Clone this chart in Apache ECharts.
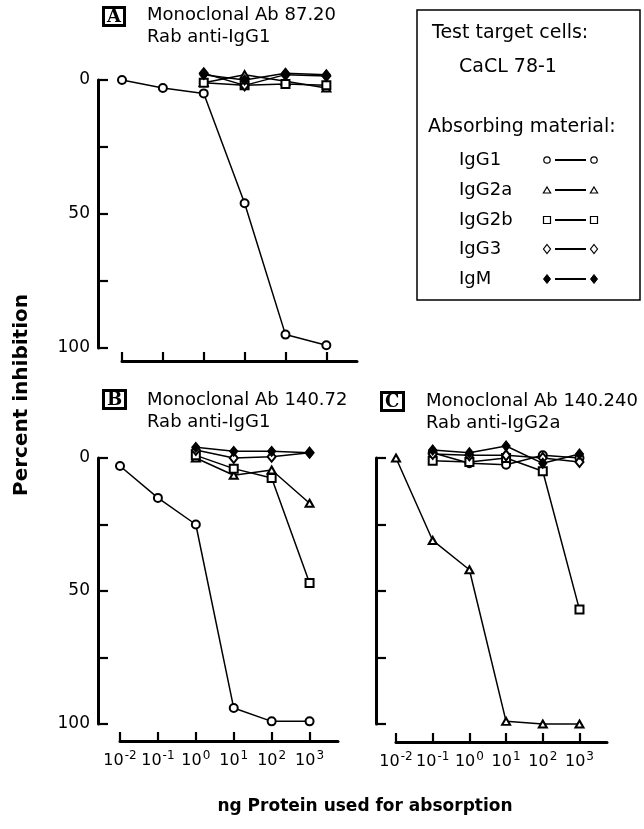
<!DOCTYPE html>
<html>
<head>
<meta charset="utf-8">
<script src="https://cdn.jsdelivr.net/npm/echarts@6/dist/echarts.min.js"></script>
<style>
  html, body { margin: 0; padding: 0; background: #fff; }
  #chart { width: 644px; height: 829px; }
</style>
</head>
<body>
<div id="chart"></div>
<script>
// x positions are log10 of ng protein
const doseExponents = [-2, -1, 0, 1, 2, 3];
const xTickExponents = ['-2', '-1', '0', '1', '2', '3'];
const yTickLabels = [0, 50, 100];
const materials = ['IgG1', 'IgG2a', 'IgG2b', 'IgG3', 'IgM'];

// A: Monoclonal Ab 87.20, Rab anti-IgG1
const aIgG1 = [0, 3, 5, 46, 95, 99];
const aIgG2a = [null, null, 1, -2, 0.5, 3];
const aIgG2b = [null, null, 1, 2, 1.5, 2];
const aIgG3 = [null, null, -2.5, 2, -2, -1.5];
const aIgM = [null, null, -2, 0, -2.5, -2];

// B: Monoclonal Ab 140.72, Rab anti-IgG1
const bIgG1 = [3, 15, 25, 94, 99, 99];
const bIgG2a = [null, null, 0, 6.5, 4.5, 17];
const bIgG2b = [null, null, -1, 4, 7.5, 47];
const bIgG3 = [null, null, -3, 0, -0.5, -2];
const bIgM = [null, null, -4, -2.5, -2.5, -2];

// C: Monoclonal Ab 140.240, Rab anti-IgG2a
const cIgG1 = [null, -2, 2, 2.5, -1, 0];
const cIgG2a = [0, 31, 42, 99, 100, 100];
const cIgG2b = [null, 1, 1.5, 0, 5, 57];
const cIgG3 = [null, -1.5, -1, -1, 0, 1.5];
const cIgM = [null, -3, -2, -4.5, 2, -1.5];

const panels = [
  [aIgG1, aIgG2a, aIgG2b, aIgG3, aIgM],
  [bIgG1, bIgG2a, bIgG2b, bIgG3, bIgM],
  [cIgG1, cIgG2a, cIgG2b, cIgG3, cIgM]
];

const FONT = 'DejaVu Sans, Liberation Sans, sans-serif';
const symbolOf = { IgG1: 'emptyCircle', IgG2a: 'emptyTriangle', IgG2b: 'emptyRect', IgG3: 'emptyDiamond', IgM: 'diamond' };
const sizeOf = { IgG1: 8, IgG2a: [8, 7], IgG2b: 8, IgG3: [8, 10], IgM: [8, 10] };

function pairs(vals) {
  return doseExponents.map((x, i) => [x, vals[i]]).filter(p => p[1] !== null);
}

const series = [];
panels.forEach((panel, p) => {
  panel.forEach((vals, k) => {
    const name = materials[k];
    series.push({
      type: 'line',
      name: name,
      xAxisIndex: p,
      yAxisIndex: p,
      data: pairs(vals),
      symbol: symbolOf[name],
      symbolSize: sizeOf[name],
      clip: false,
      lineStyle: { color: '#000', width: 1.5 },
      itemStyle: { color: '#000', borderColor: '#000', borderWidth: 1.2 },
      emphasis: { disabled: true }
    });
  });
});

const grids = [
  { left: 122, top: 80, width: 235, height: 268 },
  { left: 120, top: 458, width: 218, height: 266 },
  { left: 396, top: 458, width: 211, height: 266 }
];
const yOffsets = [24, 22, 20];
const xOffsets = [13, 17, 18];

const xAxes = grids.map((g, i) => ({
  type: 'value',
  gridIndex: i,
  position: 'bottom',
  min: -2,
  max: 3.75,
  offset: xOffsets[i],
  splitLine: { show: false },
  axisLine: { onZero: false, lineStyle: { color: '#000', width: 3 } },
  axisTick: { inside: true, length: 9, lineStyle: { color: '#000', width: 2.2 }, customValues: doseExponents },
  axisLabel: {
    show: i > 0,
    customValues: doseExponents,
    margin: 9,
    color: '#000',
    fontFamily: FONT,
    fontSize: 16,
    formatter: v => '10{s|' + xTickExponents[doseExponents.indexOf(v)] + '}',
    rich: { s: { fontSize: 12, fontFamily: FONT, color: '#000', padding: [0, 0, 10, 1] } }
  }
}));

const yAxes = grids.map((g, i) => ({
  type: 'value',
  gridIndex: i,
  position: 'left',
  inverse: true,
  min: 0,
  max: 100,
  interval: 25,
  offset: yOffsets[i],
  splitLine: { show: false },
  axisLine: { onZero: false, lineStyle: { color: '#000', width: 3 } },
  axisTick: { inside: true, length: 10, lineStyle: { color: '#000', width: 2.2 } },
  axisLabel: {
    show: i < 2,
    margin: 8,
    color: '#000',
    fontFamily: FONT,
    fontSize: 17,
    formatter: v => (yTickLabels.indexOf(v) >= 0 ? String(v) : '')
  }
}));

function letterBox(letter, left, top) {
  return {
    text: letter, left: left, top: top,
    padding: [1, 4, 0, 4],
    borderColor: '#000', borderWidth: 3,
    textStyle: { fontFamily: 'DejaVu Serif, Liberation Serif, serif', fontWeight: 'bold', fontSize: 18, color: '#000' }
  };
}
function panelTitle(text, left, top) {
  return {
    text: text, left: left, top: top, padding: 0,
    textStyle: { fontFamily: FONT, fontWeight: 'normal', fontSize: 18, lineHeight: 22, color: '#000' }
  };
}

// legend box drawn as graphics
const LX = 417, LY = 10;
function marker(kind, x, y) {
  const st = { fill: '#fff', stroke: '#000', lineWidth: 1.2 };
  if (kind === 'IgG1') return { type: 'circle', shape: { cx: x, cy: y, r: 3.2 }, style: st };
  if (kind === 'IgG2a') return { type: 'polygon', shape: { points: [[x, y - 3], [x + 3.6, y + 3], [x - 3.6, y + 3]] }, style: st };
  if (kind === 'IgG2b') return { type: 'rect', shape: { x: x - 3.5, y: y - 3.5, width: 7, height: 7 }, style: st };
  const pts = [[x, y - 4.5], [x + 3.5, y], [x, y + 4.5], [x - 3.5, y]];
  if (kind === 'IgG3') return { type: 'polygon', shape: { points: pts }, style: st };
  return { type: 'polygon', shape: { points: pts }, style: { fill: '#000', stroke: '#000', lineWidth: 1 } };
}
const legendEls = [
  { type: 'rect', shape: { x: LX, y: LY, width: 223, height: 290 }, style: { fill: '#fff', stroke: '#000', lineWidth: 1.5 } },
  { type: 'text', x: LX + 15, y: 33, style: { text: 'Test target cells:', font: '19px ' + FONT, fill: '#000', verticalAlign: 'middle' } },
  { type: 'text', x: LX + 42, y: 67, style: { text: 'CaCL 78-1', font: '19px ' + FONT, fill: '#000', verticalAlign: 'middle' } },
  { type: 'text', x: LX + 11, y: 127, style: { text: 'Absorbing material:', font: '19px ' + FONT, fill: '#000', verticalAlign: 'middle' } }
];
const legendRows = [160, 190, 220, 249, 279];
materials.forEach((m, i) => {
  const y = legendRows[i];
  legendEls.push({ type: 'text', x: LX + 42, y: y, style: { text: m, font: '18px ' + FONT, fill: '#000', verticalAlign: 'middle' } });
  legendEls.push({ type: 'line', shape: { x1: LX + 138, y1: y, x2: LX + 169, y2: y }, style: { stroke: '#000', lineWidth: 2 } });
  legendEls.push(marker(m, LX + 130, y));
  legendEls.push(marker(m, LX + 177, y));
});

const option = {
  animation: false,
  backgroundColor: '#fff',
  textStyle: { fontFamily: FONT, color: '#000' },
  title: [
    letterBox('A', 103, 7),
    panelTitle('Monoclonal Ab 87.20\nRab anti-IgG1', 147, 4),
    letterBox('B', 103, 390),
    panelTitle('Monoclonal Ab 140.72\nRab anti-IgG1', 147, 389),
    letterBox('C', 381, 392),
    panelTitle('Monoclonal Ab 140.240\nRab anti-IgG2a', 426, 390)
  ],
  grid: grids,
  xAxis: xAxes,
  yAxis: yAxes,
  series: series,
  graphic: [
    { type: 'group', children: legendEls },
    {
      type: 'text', x: 22, y: 395, rotation: Math.PI / 2,
      style: { text: 'Percent inhibition', font: 'bold 20px ' + FONT, fill: '#000', align: 'center', verticalAlign: 'middle' }
    },
    {
      type: 'text', x: 365, y: 807,
      style: { text: 'ng Protein used for absorption', font: 'bold 17px ' + FONT, fill: '#000', align: 'center', verticalAlign: 'middle' }
    }
  ]
};

const myChart = echarts.init(document.getElementById('chart'), null, { renderer: 'canvas' });
myChart.setOption(option);
</script>
</body>
</html>
